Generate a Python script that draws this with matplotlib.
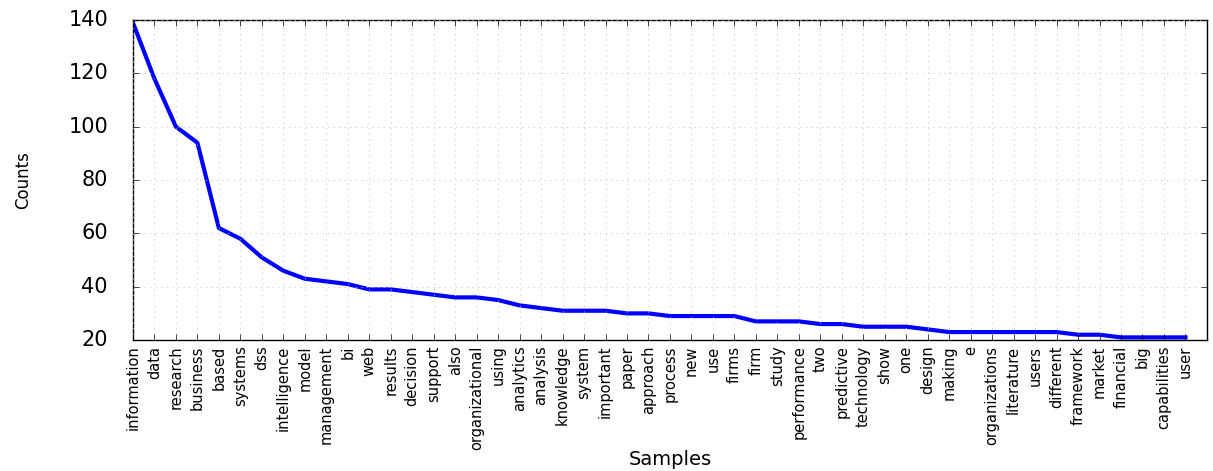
import matplotlib
matplotlib.use("Agg")
import matplotlib.pyplot as plt

# word frequency (top 50 samples)
samples = ["information", "data", "research", "business", "based", "systems",
           "dss", "intelligence", "model", "management", "bi", "web", "results",
           "decision", "support", "also", "organizational", "using", "analytics",
           "analysis", "knowledge", "system", "important", "paper", "approach",
           "process", "new", "use", "firms", "firm", "study", "performance",
           "two", "predictive", "technology", "show", "one", "design", "making",
           "e", "organizations", "literature", "users", "different", "framework",
           "market", "financial", "big", "capabilities", "user"]
counts = [139, 118, 100, 94, 62, 58, 51, 46, 43, 42, 41, 39, 39, 38, 37, 36,
          36, 35, 33, 32, 31, 31, 31, 30, 30, 29, 29, 29, 29, 27, 27, 27, 26,
          26, 25, 25, 25, 24, 23, 23, 23, 23, 23, 23, 22, 22, 21, 21, 21, 21]
yticks = [20, 40, 60, 80, 100, 120, 140]

plt.style.use('classic')
plt.rcParams['figure.facecolor'] = 'white'
plt.rcParams['savefig.facecolor'] = 'white'

fig = plt.figure(figsize=(12.13, 4.71), dpi=100)
ax = fig.add_axes([0.1096, 0.278, 0.8854, 0.6795])

ax.plot(range(len(samples)), counts, color='blue', linewidth=3)
ax.grid(True, color='silver', linestyle=':')
ax.set_xlim(0, 50)
ax.set_ylim(20, 140)
ax.set_yticks(yticks)
ax.set_xticks(range(len(samples)))
ax.set_xticklabels(samples, rotation=90, fontsize=10.5)
ax.tick_params(axis='y', labelsize=15, pad=18)
ax.set_xlabel("Samples", fontsize=14)
ax.xaxis.set_label_coords(0.5, -0.345)
ax.set_ylabel("Counts", fontsize=12)
ax.yaxis.set_label_coords(-0.094, 0.5)

fig.savefig("out.png", dpi=100)
